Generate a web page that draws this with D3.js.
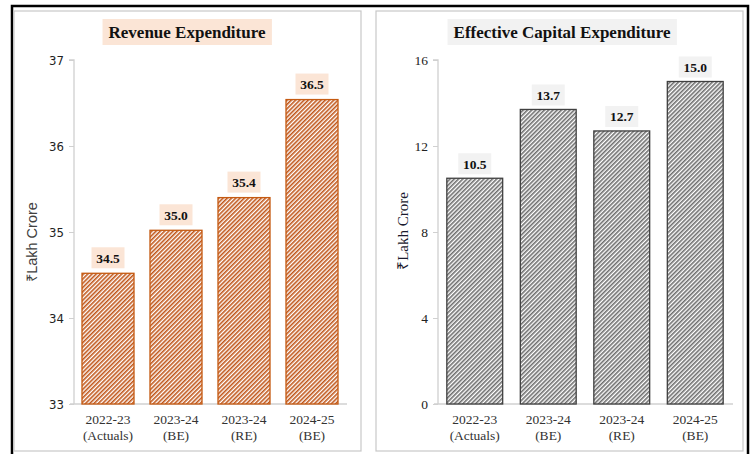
<!DOCTYPE html>
<html><head><meta charset="utf-8">
<script src="https://cdn.jsdelivr.net/npm/d3@7"></script>
<style>body{margin:0;background:#fff}svg{display:block}</style>
</head><body>
<script>
const categories = [["2022-23","(Actuals)"],["2023-24","(BE)"],["2023-24","(RE)"],["2024-25","(BE)"]];
const revenueValues = [34.52, 35.02, 35.40, 36.54];
const capexValues = [10.5, 13.7, 12.7, 15.0];
const revenueTicks = [33, 34, 35, 36, 37];
const capexTicks = [0, 4, 8, 12, 16];
const revenueLabels = ["34.5","35.0","35.4","36.5"];
const capexLabels = ["10.5","13.7","12.7","15.0"];

const W = 754, H = 454;
const svg = d3.select("body").append("svg").attr("width", W).attr("height", H);
const defs = svg.append("defs");

function hatch(id, color) {
  const p = defs.append("pattern").attr("id", id).attr("patternUnits", "userSpaceOnUse")
    .attr("width", 3).attr("height", 3).attr("patternTransform", "rotate(45)");
  p.append("rect").attr("width", 3).attr("height", 3).attr("fill", "#fff");
  p.append("rect").attr("x", 0).attr("y", 0).attr("width", 1.6).attr("height", 3).attr("fill", color);
}
hatch("hOrange", "#c0561a");
hatch("hGray", "#6e6e6e");

// outer frame
svg.append("rect").attr("x", 12).attr("y", 6).attr("width", 736).attr("height", 452)
  .attr("fill", "none").attr("stroke", "#000").attr("stroke-width", 2.5);

const serif = "'Liberation Serif','Times New Roman',serif";

function panel(cfg) {
  const g = svg.append("g");
  g.append("rect").attr("x", cfg.px).attr("y", 11).attr("width", cfg.pw).attr("height", 440)
    .attr("fill", "#fff").attr("stroke", "#c8c8c8").attr("stroke-width", 1.2);

  const x = d3.scaleBand().domain(d3.range(categories.length)).range(cfg.xr).paddingInner(cfg.pad).paddingOuter(cfg.pad / 2);
  const y = d3.scaleLinear().domain(cfg.domain).range([404, 60]);

  // title box
  const t = g.append("text").attr("x", cfg.tx).attr("y", 38).attr("text-anchor", "middle")
    .attr("font-family", serif).attr("font-weight", "bold").attr("font-size", 17).attr("fill", "#111")
    .text(cfg.title);
  const bb = t.node().getBBox();
  g.insert("rect", "text").attr("x", bb.x - 6).attr("y", 19).attr("width", bb.width + 12).attr("height", 26)
    .attr("fill", cfg.boxFill);

  // y axis
  const ya = d3.axisLeft(y).tickValues(cfg.ticks).tickSize(5).tickPadding(5).tickFormat(d3.format("d"));
  const yg = g.append("g").attr("transform", `translate(${cfg.xr[0]},0)`).call(ya);
  yg.select(".domain").attr("stroke", "#d0d0d0").attr("stroke-width", 1.3).attr("d", `M-5,60H0V404`);
  yg.selectAll(".tick line").attr("stroke", "#d0d0d0");
  yg.selectAll(".tick text").attr("font-family", cfg.tickFont).attr("font-size", cfg.tickSize).attr("fill", "#222");

  // baseline
  g.append("line").attr("x1", cfg.xr[0] - 4).attr("x2", cfg.xr[1] + 1).attr("y1", 404).attr("y2", 404)
    .attr("stroke", "#d0d0d0").attr("stroke-width", 1.3);

  // bars
  g.selectAll(".bar").data(cfg.values).join("rect")
    .attr("x", (d, i) => x(i)).attr("width", x.bandwidth())
    .attr("y", d => y(d)).attr("height", d => 404 - y(d))
    .attr("fill", cfg.pattern).attr("stroke", cfg.stroke).attr("stroke-width", 1.3);

  // data labels
  cfg.values.forEach((v, i) => {
    const cx = x(i) + x.bandwidth() / 2;
    const by = y(v) - cfg.labelGap;
    g.append("rect").attr("x", cx - 16.5).attr("y", by - 21).attr("width", 33).attr("height", 21).attr("fill", cfg.boxFill);
    g.append("text").attr("x", cx).attr("y", by - 5.5).attr("text-anchor", "middle")
      .attr("font-family", serif).attr("font-weight", "bold").attr("font-size", 13.5).attr("fill", "#111")
      .text(cfg.labels[i]);
  });

  // category labels
  categories.forEach((c, i) => {
    const cx = x(i) + x.bandwidth() / 2;
    const tx = g.append("text").attr("text-anchor", "middle").attr("font-family", serif)
      .attr("font-size", 13.5).attr("fill", "#333");
    tx.append("tspan").attr("x", cx).attr("y", 424).text(c[0]);
    tx.append("tspan").attr("x", cx).attr("y", 440).text(c[1]);
  });

  // axis title
  g.append("text").attr("transform", `translate(${cfg.atx},${cfg.aty}) rotate(-90)`).attr("text-anchor", "middle")
    .attr("font-family", cfg.axisFont).attr("font-size", cfg.axisSize).attr("fill", cfg.axisColor).text("₹Lakh Crore");
}

panel({
  px: 14, pw: 347, xr: [74, 346], pad: 0.235, domain: [33, 37], ticks: revenueTicks,
  values: revenueValues, labels: revenueLabels, title: "Revenue Expenditure", tx: 187,
  boxFill: "#fbe5d6", pattern: "url(#hOrange)", stroke: "#c55a11",
  tickFont: "'Liberation Sans Narrow','DejaVu Sans Condensed','Liberation Sans',sans-serif", tickSize: 13,
  labelGap: 5, atx: 37, aty: 242, axisFont: "'Liberation Sans Narrow','Liberation Sans',sans-serif", axisSize: 14.5, axisColor: "#404040"
});
panel({
  px: 376, pw: 367, xr: [438, 732], pad: 0.24, domain: [0, 16], ticks: capexTicks,
  values: capexValues, labels: capexLabels, title: "Effective Capital Expenditure", tx: 562,
  boxFill: "#f2f2f2", pattern: "url(#hGray)", stroke: "#404040",
  tickFont: serif, tickSize: 13.5,
  labelGap: 4, atx: 408, aty: 231, axisFont: serif, axisSize: 15, axisColor: "#1a1a2e"
});
</script>
</body></html>
